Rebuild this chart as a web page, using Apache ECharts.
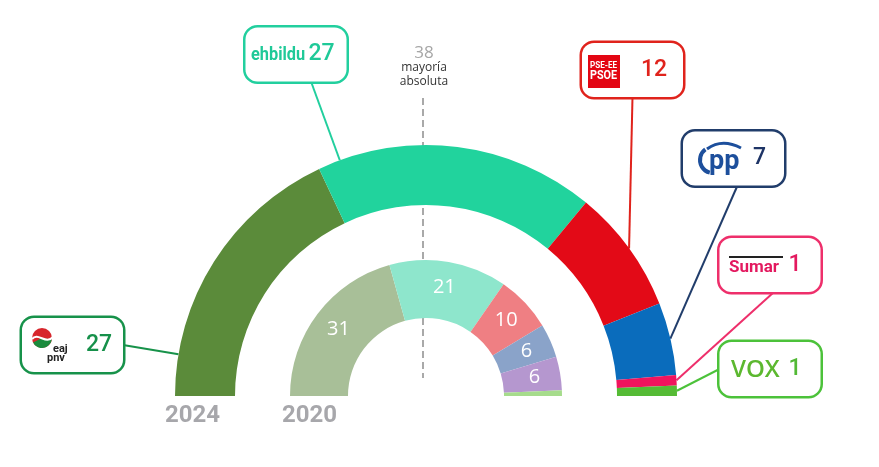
<!DOCTYPE html>
<html><head><meta charset="utf-8">
<script src="https://cdn.jsdelivr.net/npm/echarts@6/dist/echarts.min.js"></script>
<style>html,body{margin:0;padding:0;background:#fff}#c{width:879px;height:467px}</style>
</head><body><div id="c"></div>
<script>
// ---- data ----
const parties2024 = ['EAJ-PNV', 'EH Bildu', 'PSE-EE', 'PP', 'Sumar', 'Vox'];
const seats2024 = [27, 27, 12, 7, 1, 1];
const parties2020 = ['EAJ-PNV', 'EH Bildu', 'PSE-EE', 'PP+Cs', 'Elkarrekin Podemos', 'Vox'];
const seats2020 = [31, 21, 10, 6, 6, 1];
const yearLabels = ['2024', '2020'];
const majority = 38;
const majorityText = ['mayoría', 'absoluta'];
const logoTexts = { bildu: 'ehbildu', psoe: ['PSE-EE', 'PSOE'], pp: 'pp', sumar: 'Sumar', vox: 'VOX', pnv: ['eaj', 'pnv'] };

// ---- style / layout ----
const colors2024 = ['#5b8b3a', '#21d39d', '#e30a17', '#0a6cbc', '#f0145d', '#55bb35'];
const colors2020 = ['#a8bf98', '#8ee6cc', '#ef7f83', '#8aa3c9', '#b597cf', '#a6dc8c'];
const boxColors = ['#17924a', '#22cf9e', '#e0231c', '#213d6b', '#ee2f6b', '#4cc23a'];
const numColors = ['#16904a', '#1fc998', '#e0231c', '#1e3466', '#e3195f', '#52b935'];
const CX = 426, CY = 396, R0 = 191, R1 = 251, r0 = 78, r1 = 136;
const BW = 101, BH = 54;
const boxCenters = [[72.5, 345], [296, 54.5], [632.5, 70], [733.5, 158.5], [770, 265], [770, 369]];
const anchorSide = ['right', 'bottom', 'bottom', 'bottom', 'bottom', 'left'];
const anchorShiftX = [0, 15, 0, 4, 4, 0];
const numPadLeft = [64, 63, 59, 70, 69, 69];

function sum(a) { return a.reduce((s, v) => s + v, 0); }
const total2024 = sum(seats2024), total2020 = sum(seats2020);

function anchorPoint(i) {
  const c = boxCenters[i];
  switch (anchorSide[i]) {
    case 'right': return [c[0] + BW / 2, c[1]];
    case 'left': return [c[0] - BW / 2, c[1]];
    case 'top': return [c[0] + anchorShiftX[i], c[1] - BH / 2];
    default: return [c[0] + anchorShiftX[i], c[1] + BH / 2];
  }
}
function leaderStart(i) {
  let before = 0;
  for (let k = 0; k < i; k++) before += seats2024[k];
  const a0 = Math.PI * (1 - before / total2024);
  const a1 = Math.PI * (1 - (before + seats2024[i]) / total2024);
  const anc = anchorPoint(i);
  const dir = Math.atan2(CY - anc[1], anc[0] - CX);
  const ang = (dir <= a0 && dir >= a1) ? dir : (a0 + a1) / 2;
  return [CX + R1 * Math.cos(ang), CY - R1 * Math.sin(ang)];
}

const outerData = seats2024.map((v, i) => ({
  name: parties2024[i], value: v,
  itemStyle: { color: colors2024[i] },
  label: {
    formatter: '{n|' + v + '}',
    backgroundColor: '#fff', borderColor: boxColors[i], borderWidth: 2.5, borderRadius: 12,
    padding: [0, 0, 0, numPadLeft[i]],
    width: BW - numPadLeft[i], height: BH,
    rich: { n: { fontFamily: 'Roboto', fontWeight: 500, fontSize: 23, color: numColors[i], align: 'left', lineHeight: BH } }
  },
  labelLine: { lineStyle: { color: boxColors[i], width: 2 } }
}));
outerData.push({ name: '', value: total2024, itemStyle: { color: 'rgba(0,0,0,0)' }, label: { show: false }, labelLine: { show: false } });

const innerData = seats2020.map((v, i) => ({
  name: parties2020[i], value: v, itemStyle: { color: colors2020[i] },
  label: { show: v > 1 }
}));
innerData.push({ name: '', value: total2020, itemStyle: { color: 'rgba(0,0,0,0)' }, label: { show: false } });

const chart = echarts.init(document.getElementById('c'), null, { renderer: 'canvas' });

const graphics = [
  // majority line (behind rings)
  { type: 'line', z: 0, shape: { x1: 423, y1: 98, x2: 423, y2: 378 }, style: { stroke: '#a9a9a9', lineWidth: 2, lineDash: [7, 4] } },
  { type: 'text', z: 10, x: 424, y: 53, style: { text: String(majority), fontFamily: 'Open Sans', fontSize: 17, fill: '#a6a6a6', align: 'center', verticalAlign: 'middle' } },
  { type: 'text', z: 10, x: 424, y: 68, style: { text: majorityText[0], fontFamily: 'Open Sans', fontSize: 12, fill: '#333', align: 'center', verticalAlign: 'middle' } },
  { type: 'text', z: 10, x: 424, y: 82, style: { text: majorityText[1], fontFamily: 'Open Sans', fontSize: 12, fill: '#333', align: 'center', verticalAlign: 'middle' } },
  // year labels
  { type: 'text', z: 10, x: 165, y: 416, style: { text: yearLabels[0], fontFamily: 'Roboto', fontWeight: 'bold', fontSize: 24, fill: '#a7a7ab', align: 'left', verticalAlign: 'middle' } },
  { type: 'text', z: 10, x: 282, y: 416, style: { text: yearLabels[1], fontFamily: 'Roboto', fontWeight: 'bold', fontSize: 24, fill: '#a7a7ab', align: 'left', verticalAlign: 'middle' } },
  // PNV logo
  { type: 'circle', z: 100, shape: { cx: 42, cy: 338, r: 10 }, style: { fill: '#d7262c' } },
  { type: 'sector', z: 100, shape: { cx: 42, cy: 338, r: 10, r0: 0, startAngle: 0.05 * Math.PI, endAngle: 0.85 * Math.PI }, style: { fill: '#1a8a3c' } },
  { type: 'bezierCurve', z: 101, shape: { x1: 32, y1: 339, x2: 53, y2: 337, cpx1: 38, cpy1: 332, cpx2: 46, cpy2: 345 }, style: { stroke: '#fff', lineWidth: 2, fill: null } },
  { type: 'text', z: 100, x: 53, y: 349, style: { text: logoTexts.pnv[0], fontFamily: 'Roboto', fontWeight: 'bold', fontSize: 11, fill: '#222', align: 'left', verticalAlign: 'middle' } },
  { type: 'text', z: 100, x: 47, y: 358, style: { text: logoTexts.pnv[1], fontFamily: 'Roboto', fontWeight: 'bold', fontSize: 11, fill: '#222', align: 'left', verticalAlign: 'middle' } },
  // EH Bildu logo
  { type: 'text', z: 100, x: 251, y: 55, scaleX: 0.86, style: { text: logoTexts.bildu, fontFamily: 'Roboto', fontWeight: 'bold', fontSize: 19, fill: '#1fc998', align: 'left', verticalAlign: 'middle' } },
  // PSOE logo
  { type: 'rect', z: 100, shape: { x: 588, y: 55, width: 32, height: 33 }, style: { fill: '#e30613' } },
  { type: 'text', z: 101, x: 590, y: 66, scaleX: 0.9, style: { text: logoTexts.psoe[0], fontFamily: 'Roboto', fontWeight: 'bold', fontSize: 9, fill: '#fff', align: 'left', verticalAlign: 'middle' } },
  { type: 'text', z: 101, x: 590, y: 76, scaleX: 0.9, style: { text: logoTexts.psoe[1], fontFamily: 'Roboto', fontWeight: 'bold', fontSize: 12, fill: '#fff', align: 'left', verticalAlign: 'middle' } },
  // PP logo
  { type: 'arc', z: 100, shape: { cx: 713, cy: 160, r: 13, startAngle: 0.58 * Math.PI, endAngle: 1.3 * Math.PI }, style: { stroke: '#1d4f9c', lineWidth: 4, fill: null } },
  { type: 'bezierCurve', z: 100, shape: { x1: 707, y1: 149, cpx1: 722, cpy1: 138, x2: 741, y2: 148 }, style: { stroke: '#1d4f9c', lineWidth: 3, fill: null } },
  { type: 'text', z: 100, x: 709, y: 162, style: { text: logoTexts.pp, fontFamily: 'Roboto', fontWeight: 'bold', fontSize: 27, fill: '#1d4f9c', align: 'left', verticalAlign: 'middle' } },
  // Sumar logo
  { type: 'line', z: 100, shape: { x1: 729, y1: 257, x2: 783, y2: 257 }, style: { stroke: '#222', lineWidth: 2 } },
  { type: 'text', z: 100, x: 729, y: 268, style: { text: logoTexts.sumar, fontFamily: 'Roboto', fontWeight: 'bold', fontSize: 17, fill: '#e3195f', align: 'left', verticalAlign: 'middle' } },
  // VOX logo
  { type: 'text', z: 100, x: 731, y: 370, style: { text: logoTexts.vox, fontFamily: 'Open Sans', fontWeight: 600, fontSize: 24, fill: '#5cb82f', align: 'left', verticalAlign: 'middle' } }
];

chart.setOption({
  animation: false,
  backgroundColor: '#fff',
  graphic: { elements: graphics },
  series: [
    {
      type: 'pie', name: yearLabels[0], z: 2, silent: true, center: [CX, CY], radius: [R0, R1],
      startAngle: 180, clockwise: true, avoidLabelOverlap: false,
      label: { show: true, position: 'outside' },
      labelLine: { show: true, length: 10, length2: 0, smooth: false },
      labelLayout: function (p) {
        const i = p.dataIndex;
        if (i >= seats2024.length) return {};
        const c = boxCenters[i];
        return { x: c[0], y: c[1], align: 'center', verticalAlign: 'middle', labelLinePoints: [leaderStart(i), anchorPoint(i)] };
      },
      data: outerData
    },
    {
      type: 'pie', name: yearLabels[1], z: 2, silent: true, center: [CX, CY], radius: [r0, r1],
      startAngle: 180, clockwise: true, avoidLabelOverlap: false,
      label: { show: true, position: 'inside', formatter: '{c}', color: '#fff', fontFamily: 'Open Sans', fontSize: 20, fontWeight: 400, textBorderWidth: 0 },
      labelLine: { show: false },
      data: innerData
    }
  ]
});
</script></body></html>
